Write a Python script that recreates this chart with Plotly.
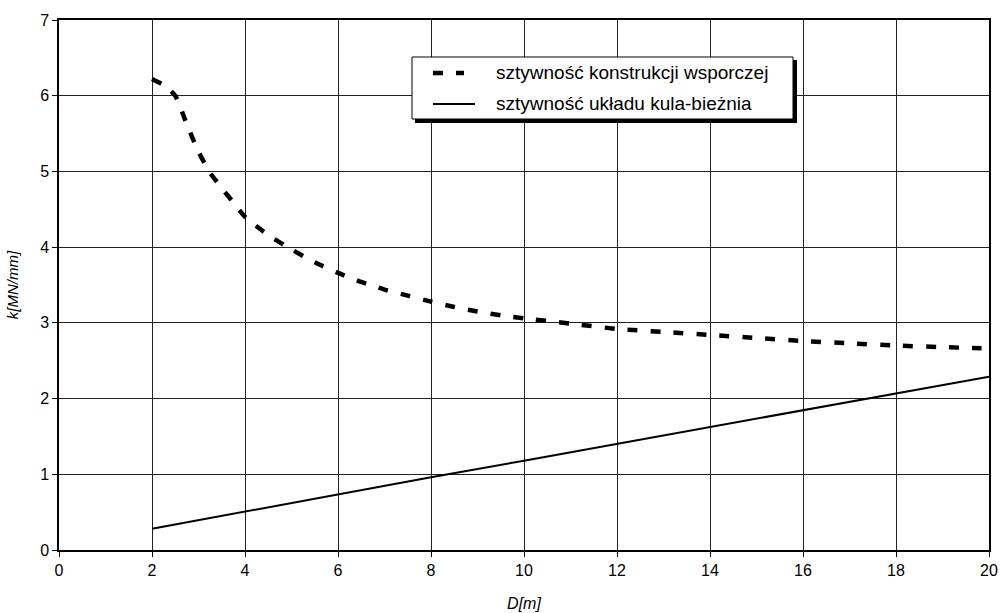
import plotly.graph_objects as go

# Data
x_support = [2, 2.25, 2.5, 2.75, 3, 3.25, 3.5, 3.75, 4, 4.5, 5, 5.5, 6, 6.5, 7, 7.5, 8, 8.5, 9, 9.5,
             10, 11, 12, 13, 14, 15, 16, 17, 18, 19, 20]
k_support = [6.22, 6.14, 6.00, 5.62, 5.26, 4.98, 4.78, 4.59, 4.40, 4.16, 3.97, 3.80, 3.66, 3.54, 3.44, 3.36,
             3.28, 3.21, 3.15, 3.10, 3.06, 2.99, 2.92, 2.88, 2.84, 2.80, 2.76, 2.73, 2.70, 2.68, 2.66]

x_contact = [2, 4, 6, 8, 10, 12, 14, 16, 18, 20]
k_contact = [0.28, 0.51, 0.73, 0.96, 1.18, 1.40, 1.62, 1.85, 2.07, 2.29]

name_support = "sztywność konstrukcji wsporczej"
name_contact = "sztywność układu kula-bieżnia"

x_ticks = [0, 2, 4, 6, 8, 10, 12, 14, 16, 18, 20]
y_ticks = [0, 1, 2, 3, 4, 5, 6, 7]

FONT = "Arial, Liberation Sans, sans-serif"
W, H = 1000, 613
ML, MR, MT, MB = 59, 11, 20, 63
PW, PH = W - ML - MR, H - MT - MB

DASH_SUPPORT = "10px,13px"


def px_x(p):
    return (p - ML) / PW


def px_y(p):
    return (H - MB - p) / PH


fig = go.Figure()
fig.add_trace(go.Scatter(
    x=x_support, y=k_support, mode="lines", name=name_support,
    line=dict(color="black", width=4.5, dash=DASH_SUPPORT, shape="spline", smoothing=0.6),
))
fig.add_trace(go.Scatter(
    x=x_contact, y=k_contact, mode="lines", name=name_contact,
    line=dict(color="black", width=2),
))

# Legend box drawn as a framed panel with a drop shadow
shapes = [
    dict(type="rect", xref="paper", yref="paper",
         x0=px_x(415), x1=px_x(797), y0=px_y(123), y1=px_y(60),
         fillcolor="black", line=dict(width=0), layer="above"),
    dict(type="rect", xref="paper", yref="paper",
         x0=px_x(412), x1=px_x(793), y0=px_y(119), y1=px_y(57),
         fillcolor="white", line=dict(color="black", width=1), layer="above"),
    dict(type="line", xref="paper", yref="paper",
         x0=px_x(433), x1=px_x(464), y0=px_y(73), y1=px_y(73),
         line=dict(color="black", width=4.5, dash=DASH_SUPPORT), layer="above"),
    dict(type="line", xref="paper", yref="paper",
         x0=px_x(433), x1=px_x(475), y0=px_y(104), y1=px_y(104),
         line=dict(color="black", width=2), layer="above"),
]
annotations = [
    dict(text=name_support, xref="paper", yref="paper", x=px_x(494), y=px_y(73),
         xanchor="left", yanchor="middle", showarrow=False,
         font=dict(family=FONT, size=19, color="black")),
    dict(text=name_contact, xref="paper", yref="paper", x=px_x(494), y=px_y(104),
         xanchor="left", yanchor="middle", showarrow=False,
         font=dict(family=FONT, size=19, color="black")),
]

fig.update_layout(
    width=W, height=H,
    margin=dict(l=ML, r=MR, t=MT, b=MB),
    paper_bgcolor="white", plot_bgcolor="white",
    font=dict(family=FONT, size=16, color="black"),
    showlegend=False,
    shapes=shapes,
    annotations=annotations,
    xaxis=dict(
        range=[0, 20], tickvals=x_ticks, ticktext=[str(t) for t in x_ticks],
        showgrid=True, gridcolor="#222", gridwidth=1,
        showline=True, linecolor="black", linewidth=1.5, mirror=True,
        ticks="outside", ticklen=5, tickcolor="black", tickwidth=1,
        zeroline=False, automargin=False,
        title=dict(text="<i>D[m]</i>", font=dict(family=FONT, size=16), standoff=20),
    ),
    yaxis=dict(
        range=[0, 7], tickvals=y_ticks, ticktext=[str(t) for t in y_ticks],
        showgrid=True, gridcolor="#222", gridwidth=1,
        showline=True, linecolor="black", linewidth=1.5, mirror=True,
        ticks="outside", ticklen=5, tickcolor="black", tickwidth=1,
        zeroline=False, automargin=False,
        title=dict(text="<i>k[MN/mm]</i>", font=dict(family=FONT, size=15), standoff=18),
    ),
)

fig.write_html("out.html")
